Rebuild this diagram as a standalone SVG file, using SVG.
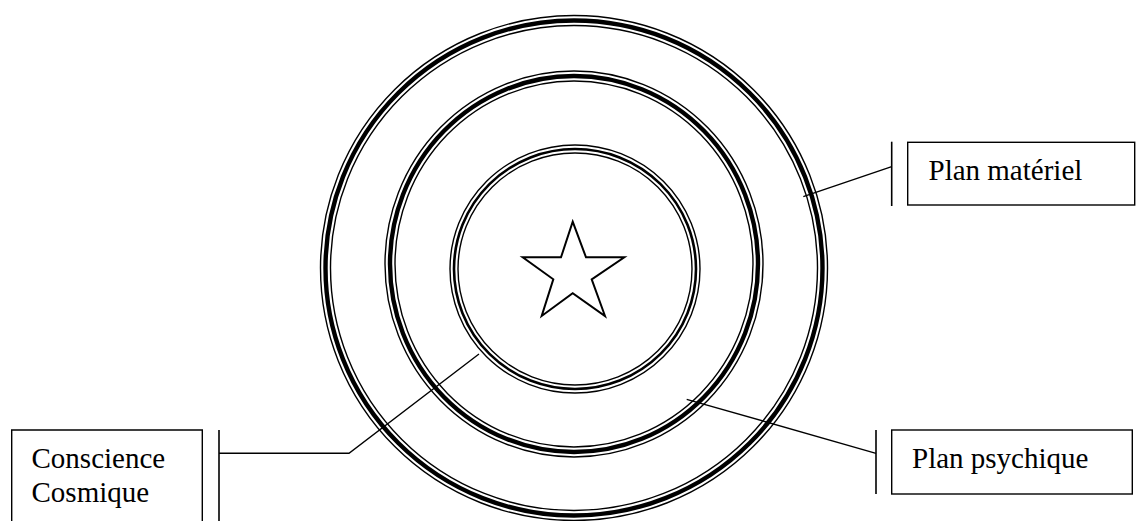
<svg xmlns="http://www.w3.org/2000/svg" width="1136" height="521" viewBox="0 0 1136 521">
<style>
.thin{fill:none;stroke:#000;stroke-width:1.4}
.thick{fill:none;stroke:#000;stroke-width:4.4}
.med{fill:none;stroke:#000;stroke-width:2.6}
.ln{fill:none;stroke:#000;stroke-width:1.4}
.bar{fill:none;stroke:#000;stroke-width:1.6}
.box{fill:#fff;stroke:#000;stroke-width:1.4}
.lbl{font-family:"Liberation Serif","Times New Roman",serif;font-size:29px;fill:#000}
</style>
<rect width="1136" height="521" fill="#fff"/>
<g id="outer-ring">
<ellipse class="thin" cx="574" cy="268" rx="253.5" ry="252.5"/>
<ellipse class="thick" cx="574" cy="268" rx="248.5" ry="247.5"/>
<ellipse class="thin" cx="574" cy="268" rx="243.5" ry="242.5"/>
</g>
<g id="middle-ring">
<ellipse class="thin" cx="574" cy="264" rx="189" ry="193"/>
<ellipse class="thick" cx="574" cy="264" rx="184" ry="188"/>
<ellipse class="thin" cx="574" cy="264" rx="179" ry="183"/>
</g>
<g id="inner-ring">
<ellipse class="thin" cx="575" cy="269" rx="125" ry="124"/>
<ellipse class="med" cx="575" cy="269" rx="121" ry="120"/>
<ellipse class="thin" cx="575" cy="269" rx="117" ry="116"/>
</g>
<g id="star">
<polygon points="572.7,221.7 586,257.3 624.3,257.3 591.7,279.3 605,316 572.7,293.3 541.7,316 553.3,279.3 522.7,257.3 561,257.3" fill="none" stroke="#000" stroke-width="2" stroke-linejoin="miter"/>
</g>
<g id="connectors">
<line class="ln" x1="891.7" y1="166.7" x2="803.3" y2="196.7"/>
<line class="ln" x1="876" y1="453.3" x2="686.7" y2="399.3"/>
<polyline class="ln" points="219,453.3 349,453.3 479,354"/>
<line class="bar" x1="891.7" y1="141.7" x2="891.7" y2="206"/>
<line class="bar" x1="876" y1="430" x2="876" y2="494"/>
<line class="bar" x1="219" y1="430" x2="219" y2="521"/>
</g>
<g id="plan-materiel">
<rect class="box" x="907.7" y="142.3" width="227" height="62.7"/>
<text class="lbl" x="928.5" y="180">Plan matériel</text>
</g>
<g id="plan-psychique">
<rect class="box" x="891.7" y="430" width="240.6" height="64"/>
<text class="lbl" x="912" y="468.3">Plan psychique</text>
</g>
<g id="conscience-cosmique">
<path class="box" d="M11.7,522 V430 H202.3 V522"/>
<text class="lbl" x="31.5" y="468.3">Conscience</text>
<text class="lbl" x="31.5" y="501.5">Cosmique</text>
</g>
</svg>
